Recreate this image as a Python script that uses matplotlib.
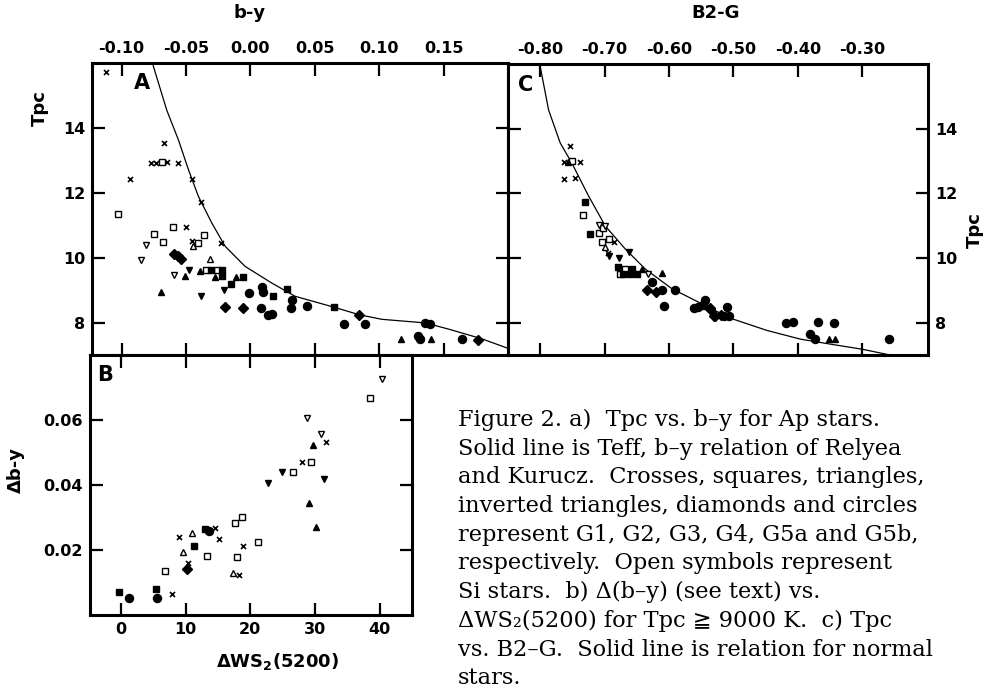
import matplotlib
matplotlib.use("Agg")
import matplotlib.pyplot as plt

plt.rcParams['axes.unicode_minus'] = False
plt.rcParams['font.family'] = ['DejaVu Sans']

# ---------------- Panel A : Tpc vs b-y ----------------
a_g1_x = [-0.1124, -0.0668, -0.0771, -0.0735, -0.0650, -0.0559, -0.0934, -0.0456, -0.0383, -0.0502, -0.0228, -0.0456]
a_g1_y = [15.73, 13.53, 12.93, 12.93, 12.94, 12.93, 12.43, 12.43, 11.71, 10.93, 10.45, 10.50]
a_g2o_x = [-0.0689, -0.1025, -0.0598, -0.0751, -0.0357, -0.0675, -0.0409, -0.0344, -0.0259]
a_g2o_y = [12.96, 11.35, 10.94, 10.74, 10.69, 10.47, 10.45, 9.63, 9.63]
a_g2f_x = [-0.0305, -0.0220, -0.0220, -0.0057, -0.0150, 0.0179, 0.0287, 0.0652]
a_g2f_y = [9.63, 9.63, 9.45, 9.41, 9.20, 8.83, 9.04, 8.47]
a_g3o_x = [-0.0443, -0.0316]
a_g3o_y = [10.35, 9.96]
a_g3f_x = [-0.0394, -0.0274, -0.0505, -0.0691, -0.0111, 0.1170, 0.1403]
a_g3f_y = [9.60, 9.41, 9.45, 8.94, 9.41, 7.50, 7.48]
a_g4o_x = [-0.0807, -0.0849, -0.0595]
a_g4o_y = [10.40, 9.94, 9.46]
a_g4f_x = [-0.0479, -0.0383, -0.0207]
a_g4f_y = [9.63, 8.81, 8.99]
a_g5a_x = [-0.0595, -0.0564, -0.0538, -0.0194, -0.0057, 0.0846, 0.1765]
a_g5a_y = [10.12, 10.04, 9.96, 8.48, 8.44, 8.24, 7.46]
a_g5b_x = [-0.0013, 0.0093, 0.0101, 0.0320, 0.0316, 0.0083, 0.0140, 0.0166, 0.0440, 0.0725, 0.0893,
           0.1356, 0.1395, 0.1304, 0.1317, 0.1640]
a_g5b_y = [8.92, 9.10, 8.93, 8.69, 8.45, 8.44, 8.22, 8.25, 8.50, 7.97, 7.97, 7.99, 7.97, 7.60, 7.50, 7.48]
a_curve_x = [-0.0761, -0.0650, -0.0559, -0.0481, -0.0404, -0.0300, -0.0196, -0.0041, 0.0165, 0.0347,
             0.0652, 0.0846, 0.1020, 0.1356, 0.1537, 0.1796, 0.1990]
a_curve_y = [16.0, 14.55, 13.63, 12.71, 11.89, 11.07, 10.35, 9.73, 9.22, 8.81,
             8.47, 8.24, 8.10, 7.99, 7.80, 7.50, 7.22]
a_xticks = [-0.10, -0.05, 0.00, 0.05, 0.10, 0.15]
a_xlabels = ['-0.10', '-0.05', '0.00', '0.05', '0.10', '0.15']
t_yticks = [8, 10, 12, 14]

# ---------------- Panel C : Tpc vs B2-G ----------------
c_g1_x = [-0.7534, -0.7627, -0.7390, -0.7627, -0.7467, -0.6851, -0.6940]
c_g1_y = [13.46, 12.98, 12.98, 12.45, 12.46, 10.51, 10.15]
c_g2o_x = [-0.7508, -0.7343, -0.7095, -0.6939, -0.7042, -0.7030, -0.6766, -0.6680]
c_g2o_y = [12.99, 11.32, 10.77, 10.58, 10.50, 10.93, 9.51, 9.66]
c_g2f_x = [-0.7312, -0.7224, -0.6800, -0.6576, -0.6720, -0.6600, -0.6500]
c_g2f_y = [11.73, 10.74, 9.71, 9.66, 9.50, 9.50, 9.50]
c_g3o_x = [-0.6990]
c_g3o_y = [10.33]
c_g3f_x = [-0.7570, -0.6420, -0.6110, -0.3523, -0.3420]
c_g3f_y = [12.98, 9.66, 9.54, 7.48, 7.51]
c_g4o_x = [-0.7090, -0.7000, -0.6330]
c_g4o_y = [11.02, 11.00, 9.51]
c_g4f_x = [-0.6939, -0.6629, -0.6773]
c_g4f_y = [10.05, 10.19, 10.00]
c_g5a_x = [-0.6344, -0.6199, -0.5360, -0.5283, -0.5309, -0.5370, -0.5190]
c_g5a_y = [9.02, 8.94, 8.43, 8.21, 8.21, 8.45, 8.25]
c_g5b_x = [-0.6266, -0.6110, -0.5904, -0.6085, -0.5619, -0.5550, -0.5470, -0.5438, -0.5101, -0.5153,
           -0.5076, -0.4180, -0.4076, -0.3694, -0.3435, -0.3807, -0.3730, -0.2592]
c_g5b_y = [9.25, 9.02, 9.02, 8.51, 8.45, 8.47, 8.55, 8.69, 8.48, 8.21,
           8.21, 8.00, 8.02, 8.02, 8.00, 7.66, 7.49, 7.48]
c_curve_x = [-0.800, -0.787, -0.769, -0.751, -0.725, -0.699, -0.668, -0.637, -0.5955, -0.5438,
             -0.505, -0.448, -0.396, -0.3446, -0.3005, -0.2617, -0.24]
c_curve_y = [15.92, 14.58, 13.56, 12.94, 11.92, 10.99, 10.28, 9.66, 9.05, 8.53,
             8.14, 7.76, 7.49, 7.32, 7.18, 7.02, 6.97]
c_xticks = [-0.80, -0.70, -0.60, -0.50, -0.40, -0.30]
c_xlabels = ['-0.80', '-0.70', '-0.60', '-0.50', '-0.40', '-0.30']

# ---------------- Panel B : delta(b-y) vs delta WS2(5200) ----------------
b_g1_x = [7.83, 10.30, 9.01, 14.53, 15.20, 18.24, 18.80, 27.92, 31.68]
b_g1_y = [0.0064, 0.0159, 0.0241, 0.0267, 0.0234, 0.0123, 0.0213, 0.0472, 0.0533]
b_g2o_x = [6.80, 13.24, 17.62, 18.65, 17.88, 21.20, 26.63, 29.37, 38.50]
b_g2o_y = [0.0135, 0.0182, 0.0282, 0.0303, 0.0178, 0.0224, 0.0441, 0.0472, 0.0669]
b_g2f_x = [-0.31, 5.41, 11.33, 12.98]
b_g2f_y = [0.0072, 0.0079, 0.0213, 0.0265]
b_g3o_x = [9.63, 10.93, 17.36]
b_g3o_y = [0.0193, 0.0253, 0.0128]
b_g3f_x = [29.62, 29.00, 30.10]
b_g3f_y = [0.0523, 0.0346, 0.0272]
b_g4o_x = [28.80, 30.91, 40.40]
b_g4o_y = [0.0607, 0.0556, 0.0725]
b_g4f_x = [22.77, 24.83, 31.37]
b_g4f_y = [0.0407, 0.0439, 0.0418]
b_g5a_x = [10.15]
b_g5a_y = [0.0141]
b_g5b_x = [1.29, 5.51, 13.65]
b_g5b_y = [0.0051, 0.0053, 0.0259]
b_xticks = [0, 10, 20, 30, 40]
b_yticks = [0.02, 0.04, 0.06]
b_ylabels = ['0.02', '0.04', '0.06']

caption_lines = [
    "Figure 2. a)  Tpc vs. b\u2013y for Ap stars.",
    "Solid line is Teff, b\u2013y relation of Relyea",
    "and Kurucz.  Crosses, squares, triangles,",
    "inverted triangles, diamonds and circles",
    "represent G1, G2, G3, G4, G5a and G5b,",
    "respectively.  Open symbols represent",
    "Si stars.  b) \u0394(b\u2013y) (see text) vs.",
    "\u0394WS\u2082(5200) for Tpc \u2267 9000 K.  c) Tpc",
    "vs. B2\u2013G.  Solid line is relation for normal",
    "stars.",
]

W, H = 992, 695
fig = plt.figure(figsize=(W / 100, H / 100), dpi=100)


def box(l, t, r, b):
    return [l / W, 1 - b / H, (r - l) / W, (b - t) / H]


axA = fig.add_axes(box(92, 63, 508, 355))
axC = fig.add_axes(box(508, 64, 928, 355))
axB = fig.add_axes(box(90, 355, 412, 615))

tickfont = dict(fontsize=11.5, fontweight='bold')


def style(ax):
    for s in ax.spines.values():
        s.set_linewidth(2.2)
    ax.tick_params(direction='in', length=9, width=1.6, top=True, bottom=True,
                   left=True, right=True, pad=5)


def scatter_groups(ax, groups):
    for xs, ys, m, filled, ms in groups:
        ax.plot(xs, ys, linestyle='none', marker=m, markersize=ms,
                markerfacecolor='black' if filled else 'white',
                markeredgecolor='black', markeredgewidth=1.0 if m != 'x' else 1.2,
                zorder=3)


def group_list(p):
    return [
        (p['g1x'], p['g1y'], 'x', True, 3.6),
        (p['g2ox'], p['g2oy'], 's', False, 4.8),
        (p['g2fx'], p['g2fy'], 's', True, 4.8),
        (p['g3ox'], p['g3oy'], '^', False, 4.8),
        (p['g3fx'], p['g3fy'], '^', True, 5.0),
        (p['g4ox'], p['g4oy'], 'v', False, 4.8),
        (p['g4fx'], p['g4fy'], 'v', True, 5.0),
        (p['g5ax'], p['g5ay'], 'D', True, 4.6),
        (p['g5bx'], p['g5by'], 'o', True, 5.8),
    ]


# ---- Panel A
style(axA)
axA.plot(a_curve_x, a_curve_y, color='black', lw=0.9, zorder=2, solid_joinstyle='round')
scatter_groups(axA, group_list(dict(
    g1x=a_g1_x, g1y=a_g1_y, g2ox=a_g2o_x, g2oy=a_g2o_y, g2fx=a_g2f_x, g2fy=a_g2f_y,
    g3ox=a_g3o_x, g3oy=a_g3o_y, g3fx=a_g3f_x, g3fy=a_g3f_y, g4ox=a_g4o_x, g4oy=a_g4o_y,
    g4fx=a_g4f_x, g4fy=a_g4f_y, g5ax=a_g5a_x, g5ay=a_g5a_y, g5bx=a_g5b_x, g5by=a_g5b_y)))
axA.set_xlim(-0.123, 0.200)
axA.set_ylim(7.0, 16.0)
axA.set_xticks(a_xticks)
axA.set_xticklabels(a_xlabels, **tickfont)
axA.set_yticks(t_yticks)
axA.set_yticklabels([str(v) for v in t_yticks], **tickfont)
axA.tick_params(labeltop=True, labelbottom=False, labelleft=True, labelright=False)
axA.text(0.10, 0.967, 'A', transform=axA.transAxes, fontsize=15, fontweight='bold',
         va='top', ha='left')

# ---- Panel C
style(axC)
axC.plot(c_curve_x, c_curve_y, color='black', lw=0.9, zorder=2, solid_joinstyle='round')
scatter_groups(axC, group_list(dict(
    g1x=c_g1_x, g1y=c_g1_y, g2ox=c_g2o_x, g2oy=c_g2o_y, g2fx=c_g2f_x, g2fy=c_g2f_y,
    g3ox=c_g3o_x, g3oy=c_g3o_y, g3fx=c_g3f_x, g3fy=c_g3f_y, g4ox=c_g4o_x, g4oy=c_g4o_y,
    g4fx=c_g4f_x, g4fy=c_g4f_y, g5ax=c_g5a_x, g5ay=c_g5a_y, g5bx=c_g5b_x, g5by=c_g5b_y)))
axC.set_xlim(-0.85, -0.198)
axC.set_ylim(7.0, 16.0)
axC.set_xticks(c_xticks)
axC.set_xticklabels(c_xlabels, **tickfont)
axC.set_yticks(t_yticks)
axC.set_yticklabels([str(v) for v in t_yticks], **tickfont)
axC.tick_params(labeltop=True, labelbottom=False, labelleft=False, labelright=True)
axC.text(0.024, 0.962, 'C', transform=axC.transAxes, fontsize=15, fontweight='bold',
         va='top', ha='left')

# ---- Panel B
style(axB)
scatter_groups(axB, group_list(dict(
    g1x=b_g1_x, g1y=b_g1_y, g2ox=b_g2o_x, g2oy=b_g2o_y, g2fx=b_g2f_x, g2fy=b_g2f_y,
    g3ox=b_g3o_x, g3oy=b_g3o_y, g3fx=b_g3f_x, g3fy=b_g3f_y, g4ox=b_g4o_x, g4oy=b_g4o_y,
    g4fx=b_g4f_x, g4fy=b_g4f_y, g5ax=b_g5a_x, g5ay=b_g5a_y, g5bx=b_g5b_x, g5by=b_g5b_y)))
axB.set_xlim(-4.8, 45.0)
axB.set_ylim(0.0, 0.080)
axB.set_xticks(b_xticks)
axB.set_xticklabels([str(v) for v in b_xticks], **tickfont)
axB.set_yticks(b_yticks)
axB.set_yticklabels(b_ylabels, **tickfont)
axB.tick_params(labeltop=False, labelbottom=True, labelleft=True, labelright=False)
axB.text(0.022, 0.962, 'B', transform=axB.transAxes, fontsize=15, fontweight='bold',
         va='top', ha='left')

# ---- axis titles
lab = dict(fontsize=13, fontweight='bold')
fig.text(250 / W, 1 - 13 / H, 'b-y', ha='center', va='center', **lab)
fig.text(716 / W, 1 - 13 / H, 'B2-G', ha='center', va='center', **lab)
fig.text(40 / W, 1 - 108 / H, 'Tpc', ha='center', va='center', rotation=90, **lab)
fig.text(975 / W, 1 - 230 / H, 'Tpc', ha='center', va='center', rotation=90, **lab)
fig.text(16 / W, 1 - 470 / H, '\u0394b-y', ha='center', va='center', rotation=90, **lab)
fig.text(278 / W, 1 - 662 / H, '\u0394WS$_{\\mathbf{2}}$(5200)', ha='center', va='center', **lab)

# ---- caption
for i, line in enumerate(caption_lines):
    fig.text(458 / W, 1 - (420 + i * 28.7) / H, line, ha='left', va='center',
             fontsize=16.2, family=['DejaVu Serif', 'DejaVu Sans'])

fig.savefig('out.png', dpi=100)
